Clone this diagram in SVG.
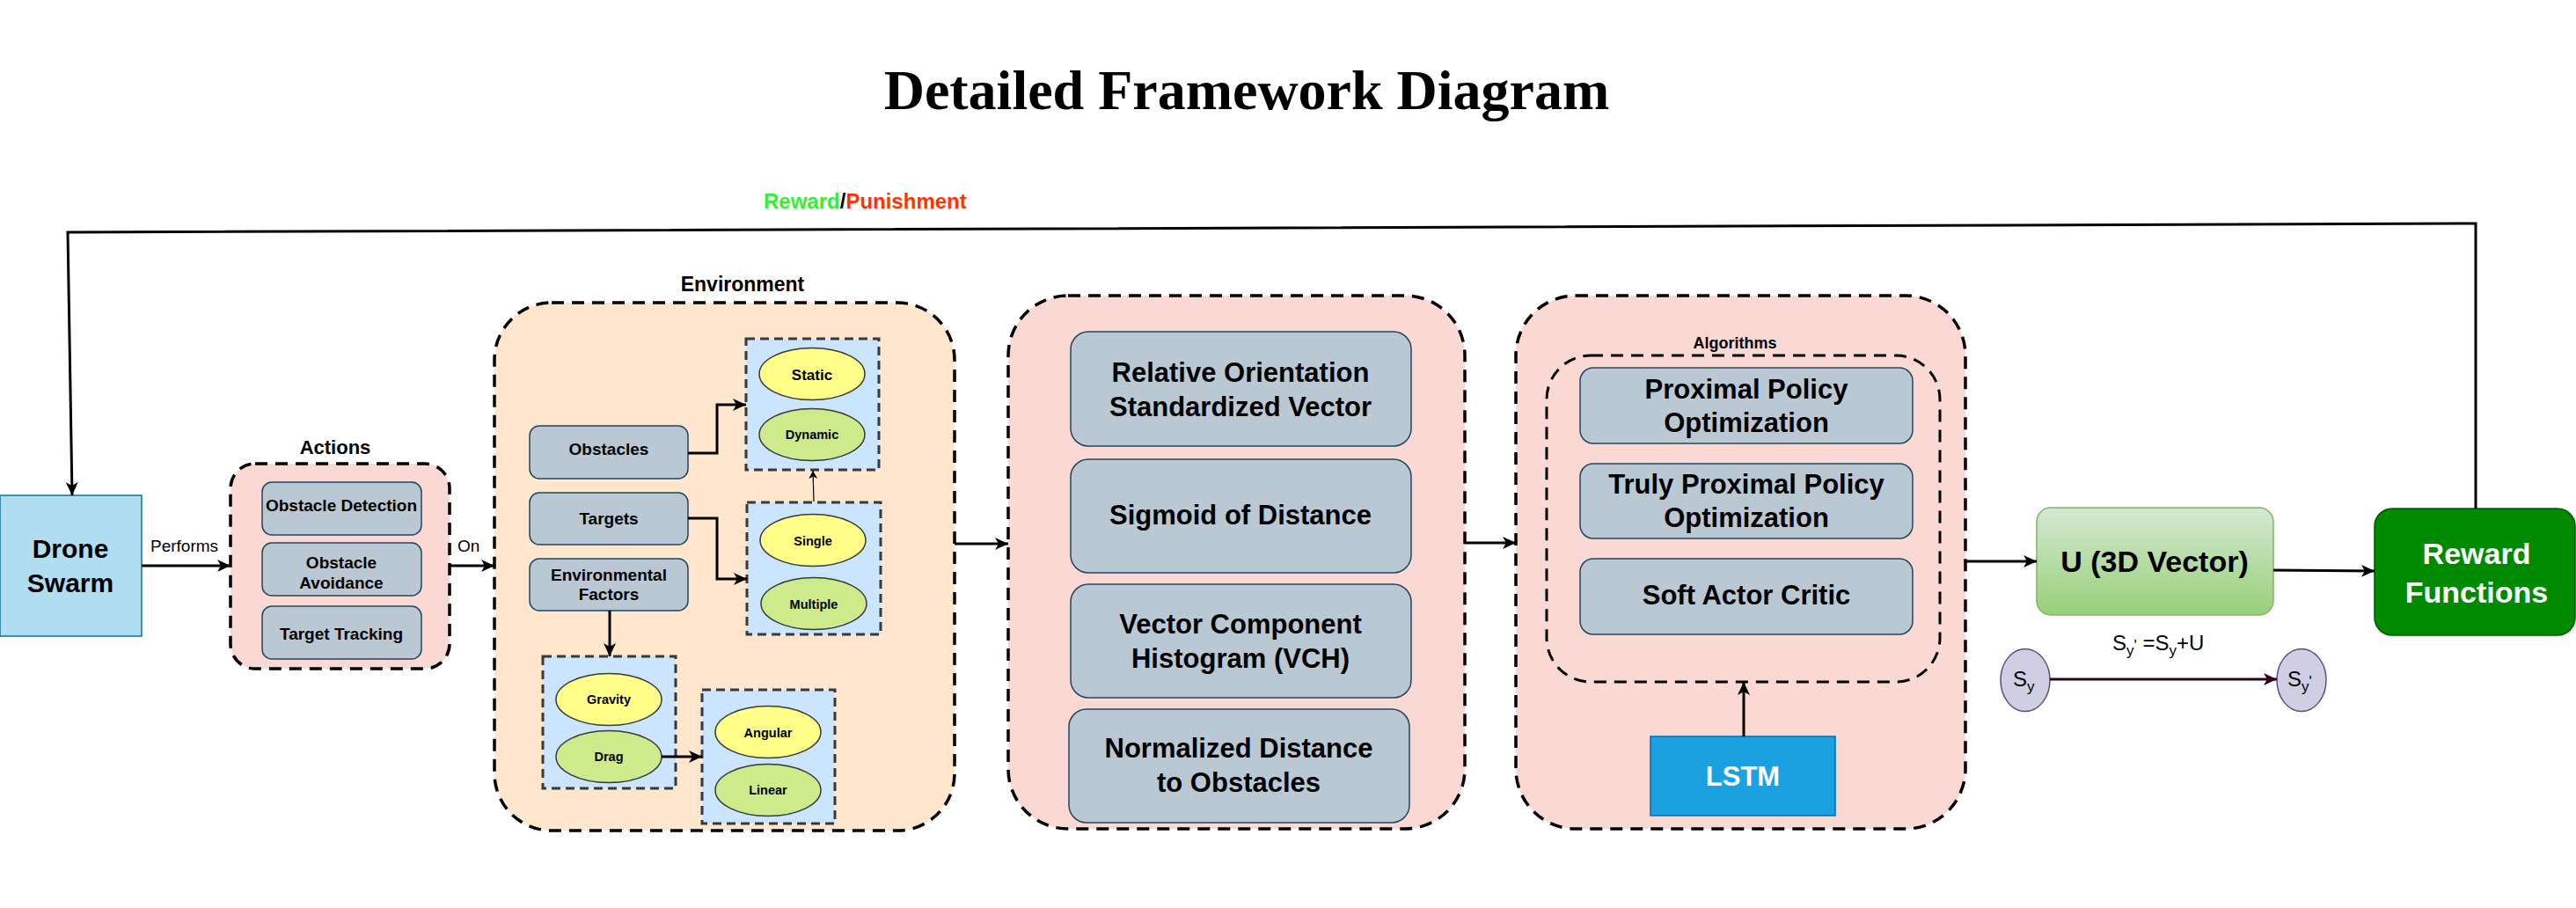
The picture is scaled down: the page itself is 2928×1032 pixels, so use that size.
<svg xmlns="http://www.w3.org/2000/svg" width="2928" height="1032" viewBox="0 0 2928 1032">
<defs>
<marker id="ah" markerUnits="userSpaceOnUse" markerWidth="16" markerHeight="14" refX="15" refY="7" orient="auto">
<path d="M0,0 L15,7 L0,14 L4,7 z" fill="#000"/>
</marker>
<marker id="ahs" markerUnits="userSpaceOnUse" markerWidth="10" markerHeight="10" refX="9" refY="5" orient="auto">
<path d="M0,0 L9,5 L0,10 L2.5,5 z" fill="#000"/>
</marker>
<marker id="ahm" markerUnits="userSpaceOnUse" markerWidth="16" markerHeight="14" refX="15" refY="7" orient="auto">
<path d="M0,0 L15,7 L0,14 L4,7 z" fill="#33001A"/>
</marker>
<linearGradient id="ugrad" x1="0" y1="0" x2="0" y2="1">
<stop offset="0" stop-color="#D5E8D4"/>
<stop offset="1" stop-color="#97D077"/>
</linearGradient>
</defs>
<style>
text{font-family:"Liberation Sans",Arial,sans-serif;fill:#000}
.b{font-weight:bold}
.c{text-anchor:middle}
.cont{fill:#FAD9D5;stroke:#000;stroke-width:3.5;stroke-dasharray:14 9}
.env{fill:#FFE6CC;stroke:#000;stroke-width:3.5;stroke-dasharray:14 9}
.inner{fill:none;stroke:#000;stroke-width:3;stroke-dasharray:14 9}
.gbox{fill:#BAC8D3;stroke:#23445D;stroke-width:1.5}
.bbox{fill:#CCE5FF;stroke:#36393D;stroke-width:3;stroke-dasharray:10 6}
.ey{fill:#FFFF88;stroke:#36393D;stroke-width:1.5}
.eg{fill:#CDEB8B;stroke:#36393D;stroke-width:1.5}
.ln{fill:none;stroke:#000;stroke-width:3}
.t19{font-size:19px}
.t14{font-size:14.5px}
.t31{font-size:31px}
</style>
<rect width="2928" height="1032" fill="#fff"/>
<text x="1417" y="124" class="c b" style="font-family:'Liberation Serif','Times New Roman',serif;font-size:64px">Detailed Framework Diagram</text>
<text x="868" y="237" class="b" style="font-size:24px"><tspan fill="#33EE33">Reward</tspan><tspan fill="#000">/</tspan><tspan fill="#FF3300">Punishment</tspan></text>

<g id="drone-swarm">
<rect x="0" y="563" width="161" height="160" fill="#B1DDF0" stroke="#10739E" stroke-width="1.5"/>
<text x="80" y="634" class="c b" style="font-size:30px">Drone</text>
<text x="80" y="673" class="c b" style="font-size:30px">Swarm</text>
</g>

<g id="actions">
<text x="381" y="516" class="c b" style="font-size:22px">Actions</text>
<rect x="262" y="527" width="249" height="233" rx="28" class="cont"/>
<g id="obstacle-detection">
<rect x="298" y="548" width="181" height="60" rx="11" class="gbox"/>
<text x="388" y="581" class="c b t19">Obstacle Detection</text>
</g>
<g id="obstacle-avoidance">
<rect x="298" y="617" width="181" height="60" rx="11" class="gbox"/>
<text x="388" y="646" class="c b t19">Obstacle</text>
<text x="388" y="669" class="c b t19">Avoidance</text>
</g>
<g id="target-tracking">
<rect x="298" y="689" width="181" height="60" rx="11" class="gbox"/>
<text x="388" y="727" class="c b t19">Target Tracking</text>
</g>
</g>

<g id="environment">
<text x="844" y="331" class="c b" style="font-size:23px">Environment</text>
<rect x="562" y="344" width="523" height="600" rx="65" class="env"/>
<g id="obstacles">
<rect x="602" y="484" width="180" height="60" rx="11" class="gbox"/>
<text x="692" y="517" class="c b t19">Obstacles</text>
</g>
<g id="targets">
<rect x="602" y="560" width="180" height="59" rx="11" class="gbox"/>
<text x="692" y="596" class="c b t19">Targets</text>
</g>
<g id="environmental-factors">
<rect x="602" y="635" width="180" height="59" rx="11" class="gbox"/>
<text x="692" y="660" class="c b t19">Environmental</text>
<text x="692" y="682" class="c b t19">Factors</text>
</g>
<g id="obstacle-types">
<rect x="848" y="385" width="151" height="149" class="bbox"/>
<ellipse cx="923" cy="425" rx="60" ry="29.5" class="ey"/>
<text x="923" y="432" class="c b" style="font-size:17px">Static</text>
<ellipse cx="923" cy="494" rx="60" ry="29.5" class="eg"/>
<text x="923" y="499" class="c b t14">Dynamic</text>
</g>
<g id="target-types">
<rect x="849" y="571" width="152" height="150" class="bbox"/>
<ellipse cx="924" cy="614" rx="60" ry="29.5" class="ey"/>
<text x="924" y="620" class="c b t14">Single</text>
<ellipse cx="925" cy="686" rx="60" ry="29.5" class="eg"/>
<text x="925" y="692" class="c b t14">Multiple</text>
</g>
<g id="factor-types">
<rect x="617" y="746" width="151" height="150" class="bbox"/>
<ellipse cx="692" cy="795" rx="60" ry="29.5" class="ey"/>
<text x="692" y="800" class="c b t14">Gravity</text>
<ellipse cx="692" cy="860" rx="60" ry="29.5" class="eg"/>
<text x="692" y="865" class="c b t14">Drag</text>
</g>
<g id="drag-types">
<rect x="798" y="784" width="151" height="152" class="bbox"/>
<ellipse cx="873" cy="832" rx="60" ry="29.5" class="ey"/>
<text x="873" y="838" class="c b t14">Angular</text>
<ellipse cx="873" cy="898" rx="60" ry="29.5" class="eg"/>
<text x="873" y="903" class="c b t14">Linear</text>
</g>
</g>

<g id="state-features">
<rect x="1146" y="336" width="519" height="606" rx="68" class="cont"/>
<g id="relative-orientation">
<rect x="1217" y="377" width="387" height="130" rx="20" class="gbox"/>
<text x="1410" y="434" class="c b t31">Relative Orientation</text>
<text x="1410" y="473" class="c b t31">Standardized Vector</text>
</g>
<g id="sigmoid-distance">
<rect x="1217" y="522" width="387" height="129" rx="20" class="gbox"/>
<text x="1410" y="596" class="c b t31">Sigmoid of Distance</text>
</g>
<g id="vch">
<rect x="1217" y="664" width="387" height="129" rx="20" class="gbox"/>
<text x="1410" y="720" class="c b t31">Vector Component</text>
<text x="1410" y="759" class="c b t31">Histogram (VCH)</text>
</g>
<g id="normalized-distance">
<rect x="1215" y="806" width="387" height="129" rx="20" class="gbox"/>
<text x="1408" y="861" class="c b t31">Normalized Distance</text>
<text x="1408" y="900" class="c b t31">to Obstacles</text>
</g>
</g>

<g id="algorithms-block">
<rect x="1723" y="336" width="511" height="606" rx="68" class="cont"/>
<text x="1972" y="396" class="c b" style="font-size:18px">Algorithms</text>
<rect x="1758" y="404" width="447" height="371" rx="50" class="inner"/>
<g id="ppo">
<rect x="1796" y="418" width="378" height="86" rx="15" class="gbox"/>
<text x="1985" y="453" class="c b t31">Proximal Policy</text>
<text x="1985" y="491" class="c b t31">Optimization</text>
</g>
<g id="tppo">
<rect x="1796" y="527" width="378" height="85" rx="15" class="gbox"/>
<text x="1985" y="561" class="c b t31">Truly Proximal Policy</text>
<text x="1985" y="599" class="c b t31">Optimization</text>
</g>
<g id="sac">
<rect x="1796" y="635" width="378" height="86" rx="15" class="gbox"/>
<text x="1985" y="687" class="c b t31">Soft Actor Critic</text>
</g>
<g id="lstm">
<rect x="1876" y="837" width="210" height="90" fill="#1BA1E2" stroke="#006EAF" stroke-width="1.5"/>
<text x="1981" y="893" class="c b" style="font-size:31px;fill:#fff">LSTM</text>
</g>
</g>

<g id="u-vector">
<rect x="2315" y="577" width="269" height="122" rx="16" fill="url(#ugrad)" stroke="#82B366" stroke-width="1.5"/>
<text x="2449" y="650" class="c b" style="font-size:34px">U (3D Vector)</text>
</g>

<g id="reward-functions">
<rect x="2699" y="578" width="228" height="144" rx="20" fill="#008A00" stroke="#005700" stroke-width="1.5"/>
<text x="2815" y="641" class="c b" style="font-size:34px;fill:#fff">Reward</text>
<text x="2815" y="685" class="c b" style="font-size:34px;fill:#fff">Functions</text>
</g>

<g id="formula">
<text x="2401" y="739" style="font-size:24px">S<tspan dy="6" style="font-size:17px">y</tspan><tspan dy="-6" style="font-size:17px">'</tspan> =S<tspan dy="6" style="font-size:17px">y</tspan><tspan dy="-6">+U</tspan></text>
</g>

<g id="sy">
<ellipse cx="2302" cy="773" rx="28" ry="35.5" fill="#D0CEE2" stroke="#56517E" stroke-width="1.5"/>
<text x="2288" y="780" style="font-size:24px">S<tspan dy="6" style="font-size:17px">y</tspan></text>
</g>
<g id="sy-prime">
<ellipse cx="2616" cy="773" rx="28" ry="35.5" fill="#D0CEE2" stroke="#56517E" stroke-width="1.5"/>
<text x="2600" y="780" style="font-size:24px">S<tspan dy="6" style="font-size:17px">y</tspan><tspan dy="-6" style="font-size:17px">'</tspan></text>
</g>

<g id="connectors">
<polyline points="2814,578 2814,254 77,264 82,563" class="ln" marker-end="url(#ah)"/>
<line x1="161" y1="643" x2="262" y2="643" class="ln" marker-end="url(#ah)"/>
<text x="171" y="627" style="font-size:19px">Performs</text>
<line x1="511" y1="643" x2="562" y2="643" class="ln" marker-end="url(#ah)"/>
<text x="520" y="627" style="font-size:19px">On</text>
<polyline points="782,515 815,515 815,460 848,460" class="ln" marker-end="url(#ah)"/>
<polyline points="782,589 815,589 815,658 849,658" class="ln" marker-end="url(#ah)"/>
<line x1="925" y1="570" x2="924" y2="535" style="fill:none;stroke:#000;stroke-width:1.2" marker-end="url(#ahs)"/>
<line x1="693" y1="694" x2="693" y2="746" class="ln" marker-end="url(#ah)"/>
<line x1="752" y1="860" x2="798" y2="860" class="ln" marker-end="url(#ah)"/>
<line x1="1085" y1="618" x2="1146" y2="618" class="ln" marker-end="url(#ah)"/>
<line x1="1665" y1="617" x2="1723" y2="617" class="ln" marker-end="url(#ah)"/>
<line x1="1982" y1="837" x2="1982" y2="775" class="ln" marker-end="url(#ah)"/>
<line x1="2234" y1="638" x2="2315" y2="638" class="ln" marker-end="url(#ah)"/>
<line x1="2584" y1="648" x2="2699" y2="649" class="ln" marker-end="url(#ah)"/>
<line x1="2330" y1="772" x2="2588" y2="772" style="fill:none;stroke:#33001A;stroke-width:3" marker-end="url(#ahm)"/>
</g>
</svg>
